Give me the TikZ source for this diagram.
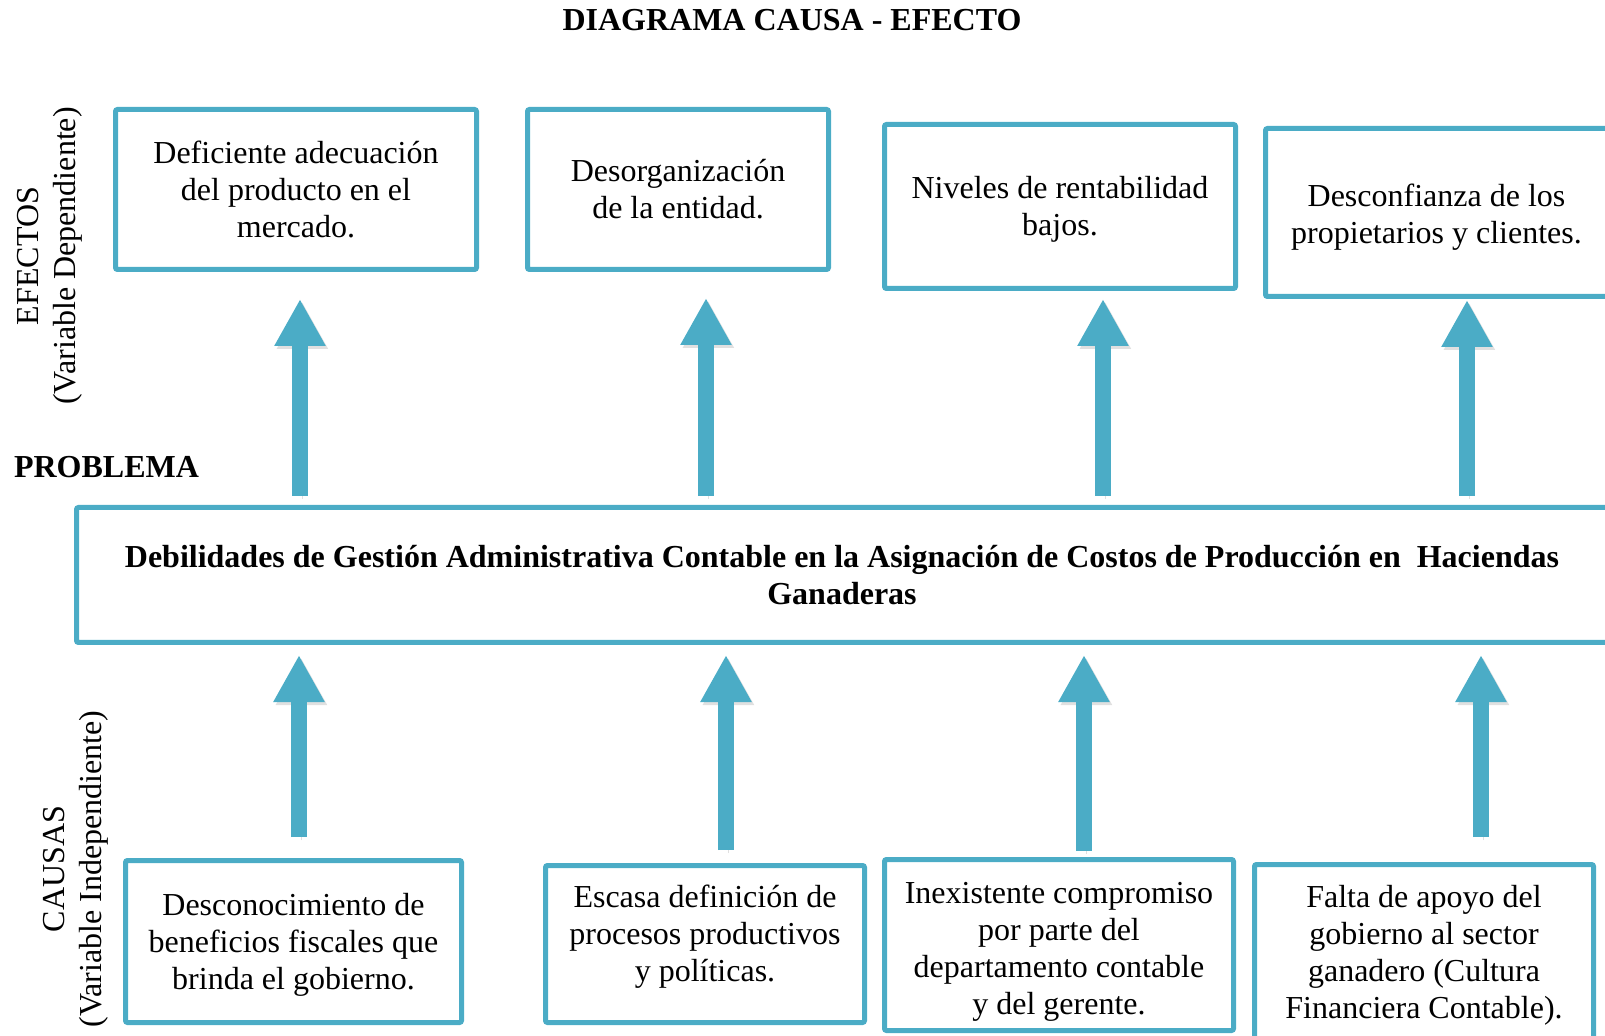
\documentclass[tikz,border=0pt]{standalone}
\usepackage{fontspec}
\setmainfont{Liberation Serif}
\usetikzlibrary{arrows.meta}
\definecolor{boxblue}{RGB}{75,172,198}
\newcommand{\txtsize}{\fontsize{16pt}{18.5pt}\selectfont}
% struts to move the text of a box down (\downby) or up (\upby)
\newcommand{\downby}[1]{\rule{0pt}{#1}}
\newcommand{\upby}[1]{\rule[-#1]{0pt}{0pt}}
\begin{document}
\begin{tikzpicture}
[x=0.5pt,y=-0.5pt,
 every node/.style={font=\txtsize},
 box/.style={draw=boxblue,line width=2.5pt,rounded corners=1pt,align=center,inner sep=3pt},
 bigarrow/.style={draw=boxblue,line width=8pt,-{Triangle[width=24pt,length=23.5pt]},
   preaction={draw=black!60,opacity=.2,transform canvas={xshift=1.2pt,yshift=-1.5pt}}}]
   \useasboundingbox (0,0) rectangle (1605,1036);
   \node[anchor=base,font=\txtsize\bfseries] (title) at (792,31) {DIAGRAMA CAUSA - EFECTO};
   % efectos
   \node[box,minimum width=180.5pt,minimum height=80pt] (ef_1) at (296,189.5) {Deficiente adecuación\\del producto en el\\mercado.};
   \node[box,minimum width=150.5pt,minimum height=80pt] (ef_2) at (678,189.5) {Desorganización\\de la entidad.};
   \node[box,minimum width=175.5pt,minimum height=82pt] (ef_3) at (1060,206.5) {\downby{13.9pt}Niveles de rentabilidad\\bajos.};
   \node[box,minimum width=171pt,minimum height=84pt] (ef_4) at (1436.5,212.5) {\downby{15.5pt}Desconfianza de los\\propietarios y clientes.};
   % problema
   \node[anchor=base west,font=\txtsize\bfseries] (problema) at (7,478) {PROBLEMA};
   \node[box,minimum width=765.5pt,minimum height=67.5pt,font=\txtsize\bfseries] (prob) at (842,575)
     {Debilidades de Gestión Administrativa Contable en la Asignación de Costos de Producción en~ Haciendas\\Ganaderas};
   % causas
   \node[box,minimum width=168pt,minimum height=81pt] (ca_1) at (293.5,941.5) {\downby{14.9pt}Desconocimiento de\\beneficios fiscales que\\brinda el gobierno.};
   \node[box,minimum width=159.5pt,minimum height=78.5pt] (ca_2) at (705,944) {Escasa definición de\\procesos productivos\\y políticas.\upby{10.7pt}};
   \node[box,minimum width=174.5pt,minimum height=85.5pt] (ca_3) at (1059,945) {\downby{17.1pt}Inexistente compromiso\\por parte del\\departamento contable\\y del gerente.};
   \node[box,minimum width=169.5pt,minimum height=90.5pt] (ca_4) at (1424,955) {Falta de apoyo del\\gobierno al sector\\ganadero (Cultura\\Financiera Contable).};
   % etiquetas laterales
   \node[rotate=90,align=center] (efectos) at (50,256) {EFECTOS\\(Variable Dependiente)};
   \node[rotate=90,align=center] (causas) at (76,869) {CAUSAS\\(Variable Independiente)};
   % puntas y bases de flechas
   \coordinate (et_1) at (300,299);
   \coordinate (et_2) at (706,298);
   \coordinate (et_3) at (1103,299);
   \coordinate (et_4) at (1467,300);
   \coordinate (cb_1) at (299,837);
   \coordinate (cb_2) at (726,850);
   \coordinate (cb_3) at (1084,851);
   \coordinate (cb_4) at (1481,837);
    \path
    (et_1 |- prob.north) edge[bigarrow,shorten <=4.5pt] (et_1)
    (et_2 |- prob.north) edge[bigarrow,shorten <=4.5pt] (et_2)
    (et_3 |- prob.north) edge[bigarrow,shorten <=4.5pt] (et_3)
    (et_4 |- prob.north) edge[bigarrow,shorten <=4.5pt] (et_4)
    (cb_1) edge[bigarrow,shorten >=5pt] (cb_1 |- prob.south)
    (cb_2) edge[bigarrow,shorten >=5pt] (cb_2 |- prob.south)
    (cb_3) edge[bigarrow,shorten >=5pt] (cb_3 |- prob.south)
    (cb_4) edge[bigarrow,shorten >=5pt] (cb_4 |- prob.south);

\end{tikzpicture}
\end{document}
